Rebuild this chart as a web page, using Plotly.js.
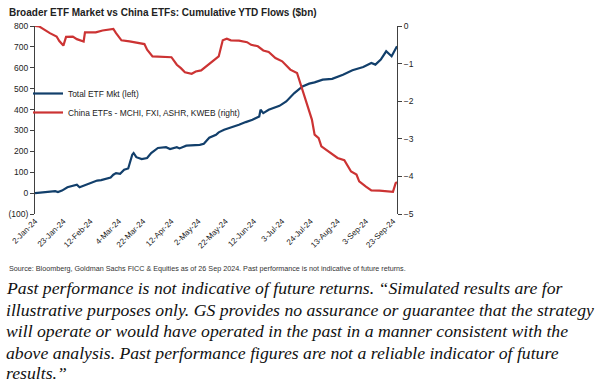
<!DOCTYPE html>
<html>
<head>
<meta charset="utf-8">
<script src="https://cdn.plot.ly/plotly-3.0.1.min.js"></script>
<style>
  html, body { margin: 0; padding: 0; background: #fff; }
  #chart { width: 610px; height: 382px; }
</style>
</head>
<body>
<div id="chart"></div>
<script>
// ---- Data ----
const etfDates = ['2024-01-02','2024-01-05','2024-01-09','2024-01-13','2024-01-17','2024-01-19','2024-01-22','2024-01-26','2024-01-29','2024-02-02','2024-02-04','2024-02-08','2024-02-12','2024-02-17','2024-02-20','2024-02-24','2024-02-27','2024-02-29','2024-03-02','2024-03-05','2024-03-08','2024-03-11','2024-03-12','2024-03-14','2024-03-15','2024-03-17','2024-03-21','2024-03-25','2024-03-28','2024-04-02','2024-04-08','2024-04-11','2024-04-16','2024-04-18','2024-04-23','2024-04-28','2024-05-03','2024-05-06','2024-05-10','2024-05-15','2024-05-17','2024-05-21','2024-05-27','2024-06-01','2024-06-06','2024-06-11','2024-06-16','2024-06-17','2024-06-19','2024-06-23','2024-07-01','2024-07-06','2024-07-12','2024-07-18','2024-07-23','2024-07-27','2024-08-02','2024-08-09','2024-08-17','2024-08-24','2024-09-01','2024-09-07','2024-09-10','2024-09-14','2024-09-18','2024-09-22','2024-09-26'];
const etfFlows = [0,2,5,8,9,5,12,28,33,40,28,38,51,60,62,70,75,88,96,92,112,118,140,184,192,172,163,168,192,216,220,211,220,214,227,228,231,236,265,279,291,303,315,327,340,351,367,399,383,399,418,439,479,511,524,530,543,547,567,588,604,623,615,639,679,655,703];

const chinaDates = ['2024-01-02','2024-01-05','2024-01-13','2024-01-18','2024-01-20','2024-01-23','2024-01-25','2024-01-30','2024-02-02','2024-02-07','2024-02-08','2024-02-16','2024-02-21','2024-02-27','2024-02-29','2024-03-02','2024-03-06','2024-03-12','2024-03-17','2024-03-23','2024-03-25','2024-03-29','2024-04-12','2024-04-16','2024-04-19','2024-04-22','2024-04-27','2024-04-30','2024-05-04','2024-05-08','2024-05-11','2024-05-14','2024-05-17','2024-05-20','2024-05-23','2024-05-26','2024-06-01','2024-06-07','2024-06-10','2024-06-15','2024-06-19','2024-06-23','2024-06-28','2024-07-03','2024-07-09','2024-07-14','2024-07-16','2024-07-21','2024-07-25','2024-07-27','2024-07-30','2024-08-01','2024-08-08','2024-08-13','2024-08-18','2024-08-20','2024-08-23','2024-08-27','2024-08-29','2024-09-03','2024-09-07','2024-09-13','2024-09-18','2024-09-23','2024-09-25','2024-09-26'];
const chinaFlows = [0,-0.01,-0.19,-0.28,-0.40,-0.52,-0.29,-0.28,-0.35,-0.41,-0.17,-0.17,-0.12,-0.08,-0.08,-0.19,-0.38,-0.41,-0.45,-0.48,-0.63,-0.81,-0.83,-1.03,-1.12,-1.23,-1.27,-1.21,-1.18,-1.07,-0.98,-0.88,-0.81,-0.38,-0.34,-0.38,-0.39,-0.43,-0.50,-0.54,-0.65,-0.69,-0.85,-0.94,-1.16,-1.25,-1.47,-2.05,-2.49,-2.89,-2.98,-3.20,-3.38,-3.51,-3.57,-3.69,-3.87,-3.95,-4.13,-4.27,-4.37,-4.38,-4.39,-4.41,-4.18,-4.15];

const xTickDates = ['2024-01-02','2024-01-23','2024-02-12','2024-03-04','2024-03-22','2024-04-12','2024-05-02','2024-05-22','2024-06-12','2024-07-03','2024-07-24','2024-08-13','2024-09-03','2024-09-23'];
const xTickLabels = ['2-Jan-24','23-Jan-24','12-Feb-24','4-Mar-24','22-Mar-24','12-Apr-24','2-May-24','22-May-24','12-Jun-24','3-Jul-24','24-Jul-24','13-Aug-24','3-Sep-24','23-Sep-24'];
const leftTickVals = [-100,0,100,200,300,400,500,600,700,800];
const leftTickLabels = ['(100)','0','100','200','300','400','500','600','700','800'];
const rightTickVals = [-5,-4,-3,-2,-1,0];

const seriesNames = ['Total ETF Mkt (left)', 'China ETFs - MCHI, FXI, ASHR, KWEB (right)'];
const titleText = 'Broader ETF Market vs China ETFs: Cumulative YTD Flows ($bn)';
const sourceText = 'Source: Bloomberg, Goldman Sachs FICC & Equities as of 26 Sep 2024. Past performance is not indicative of future returns.';
const disclaimerLines = [
  'Past performance is not indicative of future returns. \u201CSimulated results are for',
  'illustrative purposes only. GS provides no assurance or guarantee that the strategy',
  'will operate or would have operated in the past in a manner consistent with the',
  'above analysis. Past performance figures are not a reliable indicator of future',
  'results.\u201D'
];

// ---- Layout geometry ----
const W = 610, H = 382;
const M = {l: 35, r: 213, t: 26, b: 168};
const plotW = W - M.l - M.r, plotH = H - M.t - M.b;
const px2x = px => (px - M.l) / plotW;
const py2y = py => (H - M.b - py) / plotH;

const sansFont = 'Liberation Sans, Arial, sans-serif';
const axisColor = '#404040';

const traces = [
  {x: etfDates, y: etfFlows, name: seriesNames[0], type: 'scatter', mode: 'lines',
   line: {color: '#123f6b', width: 2.2}, yaxis: 'y'},
  {x: chinaDates, y: chinaFlows, name: seriesNames[1], type: 'scatter', mode: 'lines',
   line: {color: '#cc3333', width: 2.2}, yaxis: 'y2'}
];

const annotations = [
  {text: sourceText, xref: 'paper', yref: 'paper', x: px2x(7), y: py2y(268),
   xanchor: 'left', yanchor: 'middle', showarrow: false,
   font: {family: sansFont, size: 7.2, color: '#333'}}
];
const lineY = [288, 309.5, 331, 352.5, 372.5];
disclaimerLines.forEach((t, i) => {
  annotations.push({text: '<i>' + t + '</i>', xref: 'paper', yref: 'paper', x: px2x(4), y: py2y(lineY[i]),
    xanchor: 'left', yanchor: 'middle', showarrow: false,
    font: {family: 'Liberation Serif, Times New Roman, serif', size: 17.7, color: '#111'}});
});

const layout = {
  width: W, height: H,
  margin: M,
  paper_bgcolor: '#fff', plot_bgcolor: '#fff',
  showlegend: true,
  title: {text: '<b>' + titleText + '</b>', x: 9 / W, xanchor: 'left', y: 1 - 12 / H, yanchor: 'middle',
          font: {family: sansFont, size: 10, color: '#222'}},
  legend: {x: px2x(28), y: py2y(79), xanchor: 'left', yanchor: 'top', bgcolor: 'rgba(0,0,0,0)',
           font: {family: sansFont, size: 8.4, color: '#222'}, itemwidth: 30, tracegroupgap: 0},
  xaxis: {type: 'date', range: ['2024-01-02', '2024-09-26'], tickvals: xTickDates, ticktext: xTickLabels,
          tickangle: -45, showgrid: false, zeroline: false, showline: false, ticks: '',
          tickfont: {family: sansFont, size: 8, color: '#222'}},
  yaxis: {range: [-100, 800], tickvals: leftTickVals, ticktext: leftTickLabels, showgrid: false,
          zeroline: false, showline: true, linecolor: axisColor, linewidth: 1, ticks: 'outside',
          ticklen: 4, tickcolor: axisColor, tickfont: {family: sansFont, size: 8.5, color: '#222'}},
  yaxis2: {range: [-5, 0], tickvals: rightTickVals, overlaying: 'y', side: 'right', anchor: 'x',
           showgrid: false, zeroline: false, showline: true, linecolor: axisColor, linewidth: 1,
           ticks: 'outside', ticklen: 4, tickcolor: axisColor,
           tickfont: {family: sansFont, size: 8.5, color: '#222'}},
  annotations: annotations
};

Plotly.newPlot('chart', traces, layout, {displayModeBar: false, staticPlot: true});
</script>
</body>
</html>
